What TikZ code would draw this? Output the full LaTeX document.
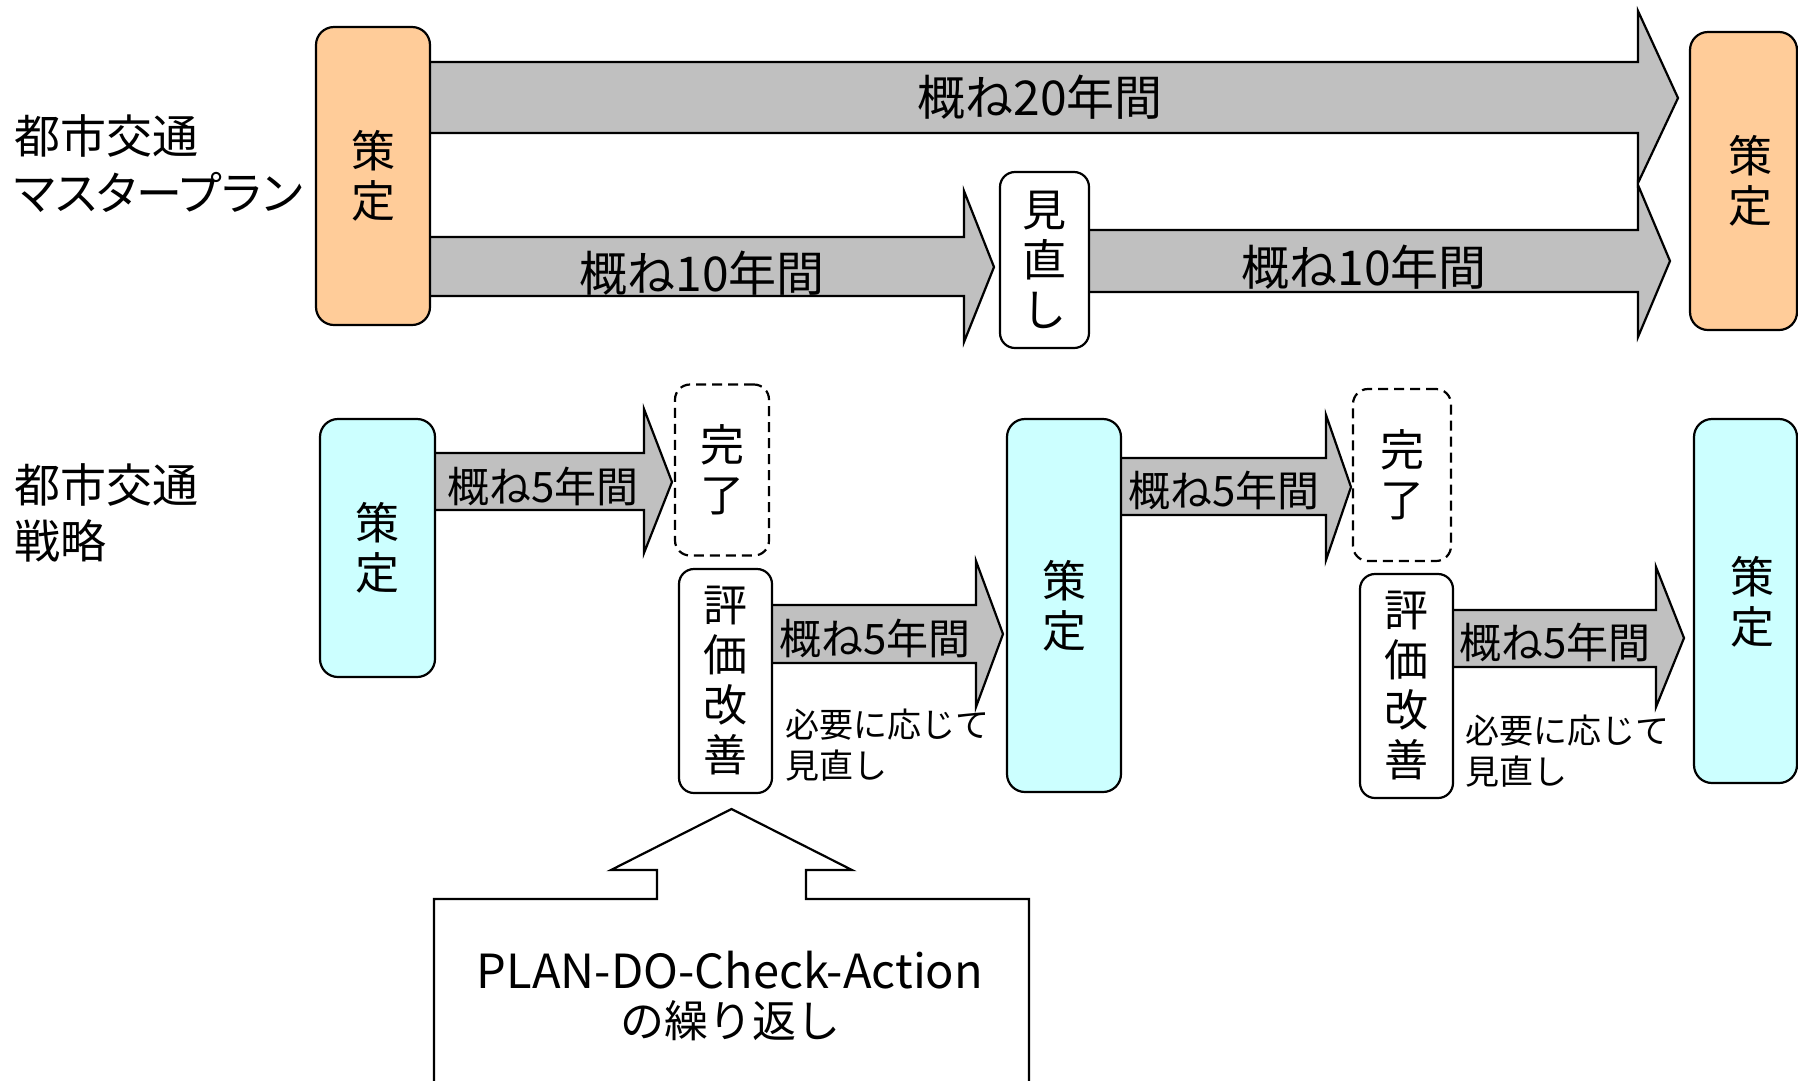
\documentclass[tikz,border=0pt]{standalone}
\usepackage{fontspec}
\setmainfont{Noto Sans CJK JP}
\newfontfamily\pfont[RawFeature=+palt]{Noto Sans CJK JP}
\definecolor{orangefill}{HTML}{FFCC99}
\definecolor{cyanfill}{HTML}{CCFFFF}
\definecolor{arrowgray}{HTML}{C0C0C0}
\tikzset{
  blockarrow/.style={draw=black, fill=arrowgray, line width=2.2pt, line join=miter},
  planbox/.style={draw=black, fill=orangefill, rounded corners=18pt, line width=2.2pt, inner sep=0pt},
  stratbox/.style={draw=black, fill=cyanfill, rounded corners=18pt, line width=2.2pt, inner sep=0pt},
  whitebox/.style={draw=black, fill=white, rounded corners=15pt, line width=2.2pt, inner sep=0pt},
  donebox/.style={draw=black, dash pattern=on 10pt off 6pt, rounded corners=15pt, line width=2.2pt, inner sep=0pt},
  vtext/.style={align=center, font=\fontsize{44}{50}\selectfont, inner sep=0pt},
  biglabel/.style={font=\fontsize{48}{54}\selectfont, inner sep=0pt},
  midlabel/.style={font=\fontsize{42}{48}\selectfont, inner sep=0pt},
  sidelabel/.style={anchor=west, font=\fontsize{46}{56}\selectfont, inner sep=0pt},
  notelabel/.style={anchor=west, align=left, font=\fontsize{34}{41}\selectfont, inner sep=0pt},
  callout/.style={draw=black, fill=white, line width=2.2pt, line join=miter},
}
% #1 x start, #2 head base x, #3 tip x, #4 tip y, #5 shaft top, #6 shaft bottom, #7 head top, #8 head bottom
\newcommand\blockarr[8]{%
  \draw[blockarrow] (#1,#5) -- (#2,#5) -- (#2,#7) -- (#3,#4) -- (#2,#8) -- (#2,#6) -- (#1,#6) -- cycle;}
\begin{document}
\begin{tikzpicture}[x=1pt,y=-1pt]
\useasboundingbox (0,0) rectangle (1798,1080);
\clip (0,0) rectangle (1798,1080);
\fill[white] (0,0) rectangle (1798,1080);

% side labels
\node[sidelabel] (mp1) at (14,136) {都市交通};
\node[sidelabel] (mp2) at (14,192) {\pfont マスタープラン};
\node[sidelabel] (st1) at (14,485) {都市交通};
\node[sidelabel] (st2) at (14,541) {戦略};

% master plan arrows
\blockarr{420}{1638}{1678}{98}{62}{133}{11}{183}
\blockarr{420}{964}{994}{267}{237}{296}{191}{342}
\blockarr{1080}{1638}{1670}{261}{230}{292}{185}{337}
\node[biglabel] (l20) at (1040,97) {概ね20年間};
\node[biglabel] (l10a) at (702,273) {概ね10年間};
\node[biglabel] (l10b) at (1364,267) {概ね10年間};

% master plan boxes
\node[planbox, vtext, minimum width=114pt, minimum height=298pt] (plan1) at (373,176) {策\\定};
\node[planbox, minimum width=107pt, minimum height=298pt] (plan2) at (1743.5,181) {};
\node[vtext] (plan2t) at (1750,181) {策\\定};
\node[whitebox, vtext, minimum width=89pt, minimum height=176pt] (rev) at (1044.5,260) {見\\直\\し};

% strategy arrows
\blockarr{425}{644}{672}{482}{453}{510}{409}{553}
\blockarr{765}{976}{1003}{634}{605}{663}{561}{707}
\blockarr{1112}{1326}{1351}{487}{458}{515}{415}{560}
\blockarr{1446}{1656}{1684}{638}{610}{667}{567}{707}
\node[midlabel] (s5a) at (543,486) {概ね5年間};
\node[midlabel] (s5b) at (875,638) {概ね5年間};
\node[midlabel] (s5c) at (1224,490) {概ね5年間};
\node[midlabel] (s5d) at (1555,642) {概ね5年間};

% strategy boxes
\node[stratbox, vtext, minimum width=115pt, minimum height=258pt] (str1) at (377.5,548) {策\\定};
\node[donebox, vtext, minimum width=94pt, minimum height=171pt] (done1) at (722,470) {完\\了};
\node[whitebox, vtext, minimum width=93pt, minimum height=224pt] (eval1) at (725.5,681) {評\\価\\改\\善};
\node[stratbox, vtext, minimum width=114pt, minimum height=373pt] (str2) at (1064,605.5) {策\\定};
\node[donebox, vtext, minimum width=98pt, minimum height=172pt] (done2) at (1402,475) {完\\了};
\node[whitebox, vtext, minimum width=93pt, minimum height=224pt] (eval2) at (1406.5,686) {評\\価\\改\\善};
\node[stratbox, minimum width=103pt, minimum height=364pt] (str3) at (1745.5,601) {};
\node[vtext] (str3t) at (1752,602) {策\\定};

% notes
\node[notelabel] (note1) at (785,745) {必要に応じて\\見直し};
\node[notelabel] (note2) at (1465,751) {必要に応じて\\見直し};

% PDCA callout
\draw[callout] (434,1090) -- (434,899) -- (657,899) -- (657,870) -- (611,870) -- (731.5,809)
  -- (852,870) -- (806,870) -- (806,899) -- (1029,899) -- (1029,1090);
\node[inner sep=0pt, font=\fontsize{47}{50}\selectfont] (pdca1) at (730,970) {PLAN-DO-Check-Action};
\node[inner sep=0pt, font=\fontsize{44}{50}\selectfont] (pdca2) at (730,1021) {の繰り返し};
\end{tikzpicture}
\end{document}
